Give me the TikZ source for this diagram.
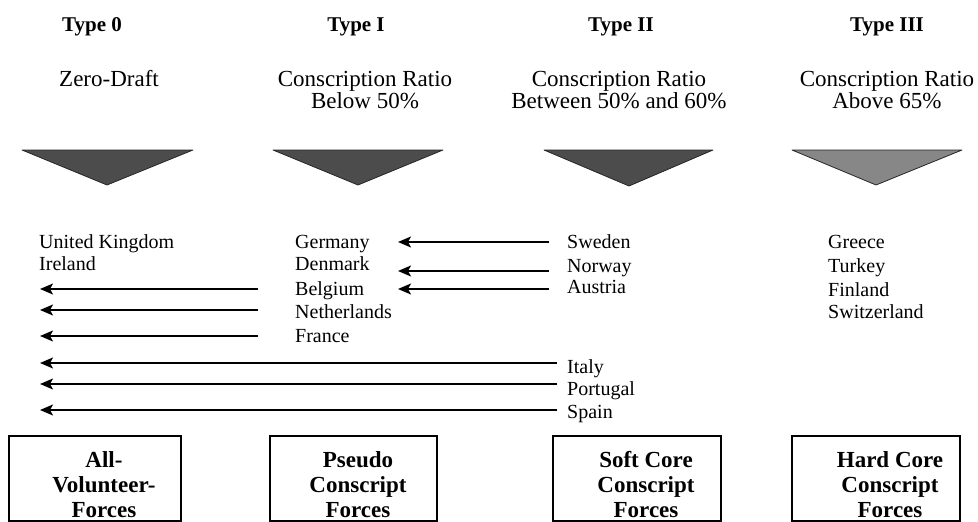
\documentclass[tikz,border=0pt]{standalone}
\usepackage{fontspec}
\setmainfont{Liberation Serif}
\usetikzlibrary{arrows.meta}
\begin{document}
\begin{tikzpicture}[x=1pt,y=-1pt,
  typelbl/.style={font=\fontsize{21}{24}\selectfont\bfseries, anchor=base, inner sep=0pt},
  head/.style={font=\fontsize{23}{22}\selectfont, align=center, anchor=base, inner sep=0pt},
  ctry/.style={font=\fontsize{20}{22}\selectfont, anchor=base west, inner sep=0pt},
  tri/.style={fill=black!70, draw=black!85, line width=0.8pt, line join=round},
  trilight/.style={tri, fill=black!47},
  forcebox/.style={draw, line width=1.8pt, minimum height=85pt, inner sep=0pt},
  boxtxt/.style={font=\fontsize{23}{25}\selectfont\bfseries, align=center, inner sep=0pt},
  arr/.style={-{Stealth[length=13pt,width=11pt,inset=3pt]}, line width=1.7pt}
]
\useasboundingbox (0,0) rectangle (978,522);

% type labels
\node[typelbl] (ty0) at (92,31) {Type 0};
\node[typelbl] (ty1) at (356,31) {Type I};
\node[typelbl] (ty2) at (621,31) {Type II};
\node[typelbl] (ty3) at (887,31) {Type III};

% headings (base anchor = last line)
\node[head] (h0) at (109,86) {Zero-Draft};
\node[head] (h1) at (365,108) {Conscription Ratio\\Below 50\%};
\node[head] (h2) at (619,108) {Conscription Ratio\\Between 50\% and 60\%};
\node[head] (h3) at (887,108) {Conscription Ratio\\Above 65\%};

% triangles
\draw[tri] (22,150) -- (193,150) -- (107,185) -- cycle;
\draw[tri] (273,150) -- (443,150) -- (358,185) -- cycle;
\draw[tri] (544,150) -- (713,150) -- (629,186) -- cycle;
\draw[trilight] (792,150) -- (962,150) -- (876,185) -- cycle;

% countries
\node[ctry] (uk) at (39,248) {United Kingdom};
\node[ctry] (ie) at (39,270) {Ireland};

\node[ctry] (de) at (295,248) {Germany};
\node[ctry] (dk) at (295,270) {Denmark};
\node[ctry] (be) at (295,295) {Belgium};
\node[ctry] (nl) at (295,318) {Netherlands};
\node[ctry] (fr) at (295,342) {France};

\node[ctry] (se) at (567,248) {Sweden};
\node[ctry] (no) at (567,272) {Norway};
\node[ctry] (at) at (567,293) {Austria};

\node[ctry] (it) at (567,373) {Italy};
\node[ctry] (pt) at (567,395) {Portugal};
\node[ctry] (es) at (567,418) {Spain};

\node[ctry] (gr) at (828,248) {Greece};
\node[ctry] (tr) at (828,272) {Turkey};
\node[ctry] (fi) at (828,296) {Finland};
\node[ctry] (ch) at (828,318) {Switzerland};

% arrow end columns
\coordinate (Lcol) at (40,0);
\coordinate (Mcol) at (398,0);

% arrow tails
\coordinate (se-t) at ([shift={(-18,-6)}]se.base west);
\coordinate (no-t) at ([shift={(-18,-1)}]no.base west);
\coordinate (at-t) at ([shift={(-18,-4)}]at.base west);
\coordinate (be-t) at ([shift={(-37,-6)}]be.base west);
\coordinate (nl-t) at ([shift={(-37,-8)}]nl.base west);
\coordinate (fr-t) at ([shift={(-37,-6)}]fr.base west);
\coordinate (it-t) at ([shift={(-10,-10)}]it.base west);
\coordinate (pt-t) at ([shift={(-10,-11)}]pt.base west);
\coordinate (es-t) at ([shift={(-10,-8)}]es.base west);

\draw[arr] (se-t) -- (Mcol |- se-t);
\draw[arr] (no-t) -- (Mcol |- no-t);
\draw[arr] (at-t) -- (Mcol |- at-t);
\draw[arr] (be-t) -- (Lcol |- be-t);
\draw[arr] (nl-t) -- (Lcol |- nl-t);
\draw[arr] (fr-t) -- (Lcol |- fr-t);
\draw[arr] (it-t) -- (Lcol |- it-t);
\draw[arr] (pt-t) -- (Lcol |- pt-t);
\draw[arr] (es-t) -- (Lcol |- es-t);

% boxes
\node[forcebox, minimum width=172pt] (b0) at (95,478.5) {};
\node[forcebox, minimum width=167pt] (b1) at (353.5,478.5) {};
\node[forcebox, minimum width=168pt] (b2) at (637,478.5) {};
\node[forcebox, minimum width=168pt] (b3) at (876,478.5) {};

\node[boxtxt] (t0) at (104,485) {All-\\Volunteer-\\Forces};
\node[boxtxt] (t1) at (358,485) {Pseudo\\Conscript\\Forces};
\node[boxtxt] (t2) at (646,485) {Soft Core\\Conscript\\Forces};
\node[boxtxt] (t3) at (890,485) {Hard Core\\Conscript\\Forces};
\end{tikzpicture}
\end{document}
